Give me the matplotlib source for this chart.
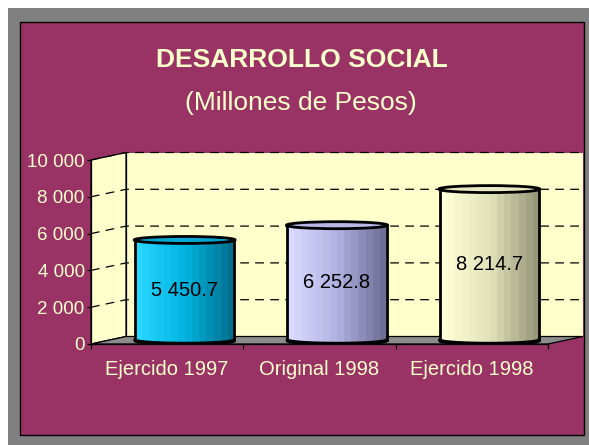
import numpy as np
import matplotlib
matplotlib.use('Agg')
import matplotlib.pyplot as plt
from matplotlib.patches import Polygon, Ellipse, Rectangle
from matplotlib.colors import LinearSegmentedColormap

# ---- data ----
categories = ['Ejercido 1997', 'Original 1998', 'Ejercido 1998']
values = [5450.7, 6252.8, 8214.7]
value_labels = ['5 450.7', '6 252.8', '8 214.7']
yticks = [0, 2000, 4000, 6000, 8000, 10000]
ytick_labels = ['0', '2 000', '4 000', '6 000', '8 000', '10 000']
title = 'DESARROLLO SOCIAL'
subtitle = '(Millones de Pesos)'

# ---- style ----
plt.rcParams['font.family'] = ['Liberation Sans', 'DejaVu Sans']
TXT = '#FFFFCC'
bar_colors = [
    ['#2AD6FF', '#00B4E0', '#006F8E'],
    ['#DADAFF', '#B2B2E2', '#6E6E96'],
    ['#FFFFD8', '#E2E2BA', '#96967A'],
]
top_colors = ['#00A8D4', '#B8B8E8', '#E8E8C4']

W, H = 589, 445
fig = plt.figure(figsize=(W / 100, H / 100), dpi=100)
fig.patch.set_facecolor('white')


def fx(px):
    return px / W


def fy(py):
    return 1 - py / H


fig.patches.append(Rectangle((fx(8), 0), 1 - fx(8), fy(8), transform=fig.transFigure,
                             facecolor='#808080', edgecolor='none', zorder=-3))
fig.patches.append(Rectangle((fx(20), fy(435)), fx(584) - fx(20), fy(22) - fy(435),
                             transform=fig.transFigure, facecolor='#993366',
                             edgecolor='black', lw=1, zorder=-2))

fig.text(fx(302), fy(67), title, ha='center', va='baseline', color=TXT,
         fontsize=19, fontweight='bold')
fig.text(fx(301), fy(110), subtitle, ha='center', va='baseline', color=TXT,
         fontsize=19)

dx, dy = 0.23, 408
ymax = yticks[-1]
ncat = len(categories)
ax = fig.add_axes([fx(91), fy(344), fx(583) - fx(91), fy(152.5) - fy(344)])
ax.patch.set_visible(False)

# side wall and back wall
ax.add_patch(Polygon([(0, 0), (dx, dy), (dx, ymax + dy), (0, ymax)], closed=True,
                     facecolor='#FFFFCC', edgecolor='black', lw=0.9, zorder=1, clip_on=False))
ax.add_patch(Polygon([(dx, dy), (ncat + dx, dy), (ncat + dx, ymax + dy), (dx, ymax + dy)],
                     closed=True, facecolor='#FFFFCC', edgecolor='none', zorder=0.9,
                     clip_on=False))
ax.plot([dx, dx], [dy, ymax + dy], color='black', lw=0.9, zorder=2, clip_on=False)

for v in yticks[1:]:
    ax.plot([0, dx, ncat + dx], [v, v + dy, v + dy], color='black', lw=0.9,
            ls=(0, (7, 5)), zorder=2, clip_on=False)

# floor
ax.add_patch(Polygon([(0, 0), (ncat, 0), (ncat + dx, dy), (dx, dy)], closed=True,
                     facecolor='#8C8C8C', edgecolor='black', lw=0.9, zorder=3, clip_on=False))

# cylinders
w = 0.65
eh = 380
th = np.linspace(np.pi, 2 * np.pi, 80)
for i, v in enumerate(values):
    cx = i + 0.5 + dx / 2
    y0 = dy / 2
    y1 = y0 + v
    bx = cx + w / 2 * np.cos(th)
    by = y0 + eh / 2 * np.sin(th)
    verts = list(zip(bx, by)) + [(cx + w / 2, y1), (cx - w / 2, y1)]
    body = Polygon(verts, closed=True, facecolor='none', edgecolor='none', zorder=4)
    ax.add_patch(body)
    cmap = LinearSegmentedColormap.from_list(f'c{i}', bar_colors[i])
    grad = np.linspace(0, 1, 14)[None, :]
    im = ax.imshow(grad, cmap=cmap, extent=[cx - w / 2, cx + w / 2, y0 - eh / 2, y1],
                   aspect='auto', interpolation='nearest', zorder=4)
    im.set_clip_path(body)
    ax.plot([cx - w / 2, cx - w / 2], [y0, y1], color='black', lw=2, zorder=5)
    ax.plot([cx + w / 2, cx + w / 2], [y0, y1], color='black', lw=2, zorder=5)
    ax.plot(bx, by, color='black', lw=2.8, zorder=5, solid_capstyle='round')
    ax.add_patch(Ellipse((cx, y1), w * 1.02, eh, facecolor=top_colors[i],
                         edgecolor='black', lw=2, zorder=6))
    ax.text(cx, y0 + v / 2, value_labels[i], ha='center', va='center',
            fontsize=14.5, color='black', zorder=7)

# axes
ax.set_xlim(0, ncat + dx)
ax.set_ylim(0, ymax + dy)
for s in ['top', 'right']:
    ax.spines[s].set_visible(False)
ax.spines['left'].set_bounds(0, ymax)
ax.spines['bottom'].set_bounds(0, ncat)
for s in ['left', 'bottom']:
    ax.spines[s].set_zorder(8)
    ax.spines[s].set_linewidth(0.9)
ax.set_yticks(yticks, ytick_labels)
ax.set_xticks(range(ncat + 1), [''] * (ncat + 1))
ax.tick_params(axis='y', direction='out', length=3, width=0.9, pad=1.5,
               labelcolor=TXT, labelsize=13.5)
ax.tick_params(axis='x', direction='out', length=3.5, width=0.9)
for i, c in enumerate(categories):
    ax.annotate(c, xy=(i + 0.5, 0), xytext=(0, -31), textcoords='offset pixels',
                ha='center', va='baseline', color=TXT, fontsize=14.5,
                annotation_clip=False)

fig.savefig('out.png', dpi=100, facecolor=fig.get_facecolor())
